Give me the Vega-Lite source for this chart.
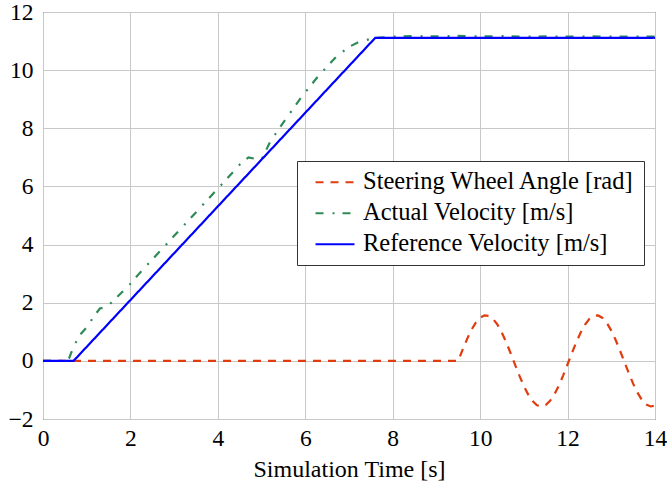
{
  "$schema": "https://vega.github.io/schema/vega-lite/v6.json",
  "width": 612,
  "height": 407,
  "autosize": {"type": "none"},
  "padding": {"left": 43, "top": 12, "right": 12, "bottom": 67},
  "background": "white",
  "config": {
    "view": {"stroke": "#222", "strokeWidth": 1},
    "font": "Liberation Serif, serif",
    "axis": {
      "labelFont": "Liberation Serif, serif",
      "labelFontSize": 23.5,
      "labelColor": "black",
      "titleFont": "Liberation Serif, serif",
      "titleFontSize": 24,
      "titleFontWeight": "normal",
      "titleColor": "black",
      "gridColor": "#c8c8c8",
      "gridWidth": 1,
      "gridOpacity": 1,
      "domain": false,
      "ticks": false
    },
    "legend": {
      "labelFont": "Liberation Serif, serif",
      "labelFontSize": 24.5,
      "labelColor": "black",
      "labelLimit": 0
    }
  },
  "data": {
    "values": [
      {"t": 0, "v": 0, "s": "Steering Wheel Angle [rad]"},
      {"t": 9.5, "v": 0, "s": "Steering Wheel Angle [rad]"},
      {"t": 9.6, "v": 0.386, "s": "Steering Wheel Angle [rad]"},
      {"t": 9.7, "v": 0.748, "s": "Steering Wheel Angle [rad]"},
      {"t": 9.8, "v": 1.065, "s": "Steering Wheel Angle [rad]"},
      {"t": 9.9, "v": 1.315, "s": "Steering Wheel Angle [rad]"},
      {"t": 10.0, "v": 1.486, "s": "Steering Wheel Angle [rad]"},
      {"t": 10.1, "v": 1.565, "s": "Steering Wheel Angle [rad]"},
      {"t": 10.2, "v": 1.548, "s": "Steering Wheel Angle [rad]"},
      {"t": 10.3, "v": 1.436, "s": "Steering Wheel Angle [rad]"},
      {"t": 10.4, "v": 1.235, "s": "Steering Wheel Angle [rad]"},
      {"t": 10.5, "v": 0.96, "s": "Steering Wheel Angle [rad]"},
      {"t": 10.6, "v": 0.626, "s": "Steering Wheel Angle [rad]"},
      {"t": 10.7, "v": 0.253, "s": "Steering Wheel Angle [rad]"},
      {"t": 10.8, "v": -0.137, "s": "Steering Wheel Angle [rad]"},
      {"t": 10.9, "v": -0.517, "s": "Steering Wheel Angle [rad]"},
      {"t": 11.0, "v": -0.866, "s": "Steering Wheel Angle [rad]"},
      {"t": 11.1, "v": -1.161, "s": "Steering Wheel Angle [rad]"},
      {"t": 11.2, "v": -1.381, "s": "Steering Wheel Angle [rad]"},
      {"t": 11.3, "v": -1.525, "s": "Steering Wheel Angle [rad]"},
      {"t": 11.4, "v": -1.57, "s": "Steering Wheel Angle [rad]"},
      {"t": 11.5, "v": -1.519, "s": "Steering Wheel Angle [rad]"},
      {"t": 11.6, "v": -1.375, "s": "Steering Wheel Angle [rad]"},
      {"t": 11.7, "v": -1.148, "s": "Steering Wheel Angle [rad]"},
      {"t": 11.8, "v": -0.851, "s": "Steering Wheel Angle [rad]"},
      {"t": 11.9, "v": -0.499, "s": "Steering Wheel Angle [rad]"},
      {"t": 12.0, "v": -0.116, "s": "Steering Wheel Angle [rad]"},
      {"t": 12.1, "v": 0.271, "s": "Steering Wheel Angle [rad]"},
      {"t": 12.2, "v": 0.641, "s": "Steering Wheel Angle [rad]"},
      {"t": 12.3, "v": 0.974, "s": "Steering Wheel Angle [rad]"},
      {"t": 12.4, "v": 1.245, "s": "Steering Wheel Angle [rad]"},
      {"t": 12.5, "v": 1.444, "s": "Steering Wheel Angle [rad]"},
      {"t": 12.6, "v": 1.551, "s": "Steering Wheel Angle [rad]"},
      {"t": 12.7, "v": 1.562, "s": "Steering Wheel Angle [rad]"},
      {"t": 12.8, "v": 1.476, "s": "Steering Wheel Angle [rad]"},
      {"t": 12.9, "v": 1.299, "s": "Steering Wheel Angle [rad]"},
      {"t": 13.0, "v": 1.041, "s": "Steering Wheel Angle [rad]"},
      {"t": 13.1, "v": 0.717, "s": "Steering Wheel Angle [rad]"},
      {"t": 13.2, "v": 0.35, "s": "Steering Wheel Angle [rad]"},
      {"t": 13.3, "v": -0.038, "s": "Steering Wheel Angle [rad]"},
      {"t": 13.4, "v": -0.423, "s": "Steering Wheel Angle [rad]"},
      {"t": 13.5, "v": -0.783, "s": "Steering Wheel Angle [rad]"},
      {"t": 13.6, "v": -1.095, "s": "Steering Wheel Angle [rad]"},
      {"t": 13.7, "v": -1.343, "s": "Steering Wheel Angle [rad]"},
      {"t": 13.8, "v": -1.504, "s": "Steering Wheel Angle [rad]"},
      {"t": 13.9, "v": -1.569, "s": "Steering Wheel Angle [rad]"},
      {"t": 14.0, "v": -1.541, "s": "Steering Wheel Angle [rad]"},
      {"t": 0, "v": 0, "s": "Actual Velocity [m/s]"},
      {"t": 0.55, "v": 0, "s": "Actual Velocity [m/s]"},
      {"t": 0.6, "v": 0.1, "s": "Actual Velocity [m/s]"},
      {"t": 0.7, "v": 0.5, "s": "Actual Velocity [m/s]"},
      {"t": 0.85, "v": 0.9, "s": "Actual Velocity [m/s]"},
      {"t": 1.0, "v": 1.15, "s": "Actual Velocity [m/s]"},
      {"t": 1.15, "v": 1.5, "s": "Actual Velocity [m/s]"},
      {"t": 1.3, "v": 1.8, "s": "Actual Velocity [m/s]"},
      {"t": 1.45, "v": 1.85, "s": "Actual Velocity [m/s]"},
      {"t": 1.6, "v": 2.05, "s": "Actual Velocity [m/s]"},
      {"t": 1.8, "v": 2.35, "s": "Actual Velocity [m/s]"},
      {"t": 2.0, "v": 2.65, "s": "Actual Velocity [m/s]"},
      {"t": 2.2, "v": 3.0, "s": "Actual Velocity [m/s]"},
      {"t": 2.6, "v": 3.65, "s": "Actual Velocity [m/s]"},
      {"t": 3.0, "v": 4.3, "s": "Actual Velocity [m/s]"},
      {"t": 3.4, "v": 4.95, "s": "Actual Velocity [m/s]"},
      {"t": 3.8, "v": 5.6, "s": "Actual Velocity [m/s]"},
      {"t": 4.2, "v": 6.25, "s": "Actual Velocity [m/s]"},
      {"t": 4.5, "v": 6.75, "s": "Actual Velocity [m/s]"},
      {"t": 4.7, "v": 7.0, "s": "Actual Velocity [m/s]"},
      {"t": 4.85, "v": 6.95, "s": "Actual Velocity [m/s]"},
      {"t": 5.0, "v": 6.92, "s": "Actual Velocity [m/s]"},
      {"t": 5.2, "v": 7.55, "s": "Actual Velocity [m/s]"},
      {"t": 5.5, "v": 8.2, "s": "Actual Velocity [m/s]"},
      {"t": 5.9, "v": 9.05, "s": "Actual Velocity [m/s]"},
      {"t": 6.3, "v": 9.8, "s": "Actual Velocity [m/s]"},
      {"t": 6.7, "v": 10.45, "s": "Actual Velocity [m/s]"},
      {"t": 7.0, "v": 10.8, "s": "Actual Velocity [m/s]"},
      {"t": 7.2, "v": 10.95, "s": "Actual Velocity [m/s]"},
      {"t": 7.55, "v": 11.1, "s": "Actual Velocity [m/s]"},
      {"t": 8.0, "v": 11.15, "s": "Actual Velocity [m/s]"},
      {"t": 8.5, "v": 11.17, "s": "Actual Velocity [m/s]"},
      {"t": 9.0, "v": 11.16, "s": "Actual Velocity [m/s]"},
      {"t": 9.5, "v": 11.18, "s": "Actual Velocity [m/s]"},
      {"t": 10.0, "v": 11.16, "s": "Actual Velocity [m/s]"},
      {"t": 10.5, "v": 11.17, "s": "Actual Velocity [m/s]"},
      {"t": 11.0, "v": 11.15, "s": "Actual Velocity [m/s]"},
      {"t": 11.5, "v": 11.16, "s": "Actual Velocity [m/s]"},
      {"t": 12.0, "v": 11.15, "s": "Actual Velocity [m/s]"},
      {"t": 12.5, "v": 11.16, "s": "Actual Velocity [m/s]"},
      {"t": 13.0, "v": 11.15, "s": "Actual Velocity [m/s]"},
      {"t": 13.5, "v": 11.15, "s": "Actual Velocity [m/s]"},
      {"t": 14.0, "v": 11.15, "s": "Actual Velocity [m/s]"},
      {"t": 0, "v": 0, "s": "Reference Velocity [m/s]"},
      {"t": 0.7, "v": 0, "s": "Reference Velocity [m/s]"},
      {"t": 7.6, "v": 11.11, "s": "Reference Velocity [m/s]"},
      {"t": 14, "v": 11.11, "s": "Reference Velocity [m/s]"}
    ]
  },
  "mark": {"type": "line", "strokeWidth": 2.2, "clip": true},
  "encoding": {
    "x": {
      "field": "t",
      "type": "quantitative",
      "title": "Simulation Time [s]",
      "scale": {"domain": [0, 14], "nice": false},
      "axis": {"values": [0, 2, 4, 6, 8, 10, 12, 14], "labelPadding": 7, "titlePadding": 8, "labelFlush": false}
    },
    "y": {
      "field": "v",
      "type": "quantitative",
      "title": null,
      "scale": {"domain": [-2, 12], "nice": false},
      "axis": {"values": [-2, 0, 2, 4, 6, 8, 10, 12], "labelPadding": 10, "labelFlush": false}
    },
    "color": {
      "field": "s",
      "type": "nominal",
      "sort": null,
      "title": null,
      "scale": {
        "domain": ["Steering Wheel Angle [rad]", "Actual Velocity [m/s]", "Reference Velocity [m/s]"],
        "range": ["#e03c0f", "#2e8b57", "#0000ff"]
      },
      "legend": {
        "orient": "none",
        "legendX": 254,
        "legendY": 149,
        "symbolType": "M-2,0H2",
        "symbolSize": 380,
        "symbolStrokeWidth": 2.2,
        "fillColor": "white",
        "strokeColor": "#333",
        "padding": 9,
        "rowPadding": 6,
        "symbolOffset": 16.75,
        "labelOffset": 15.75
      }
    },
    "strokeDash": {
      "field": "s",
      "type": "nominal",
      "sort": null,
      "title": null,
      "scale": {
        "domain": ["Steering Wheel Angle [rad]", "Actual Velocity [m/s]", "Reference Velocity [m/s]"],
        "range": [[8, 7], [8, 9, 2, 8], [1, 0]]
      }
    }
  }
}
